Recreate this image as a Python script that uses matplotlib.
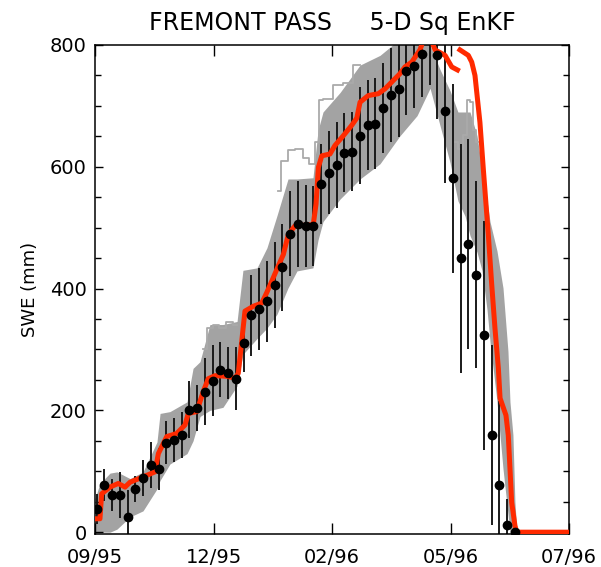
import numpy as np
import matplotlib
matplotlib.use('Agg')
import matplotlib.pyplot as plt
from matplotlib.ticker import MultipleLocator

# ejes: dias desde el inicio de la serie
x_ticks = [0, 76.5, 153, 229.5, 306]
x_labels = ['09/95', '12/95', '02/96', '05/96', '07/96']

# observaciones (cada 5 dias) con barra de error
obs_day = list(range(1, 276, 5))
obs_swe = [38, 77, 61, 61, 25, 71, 89, 110, 104, 147,
           152, 160, 201, 204, 231, 249, 267, 261, 252, 310,
           356, 366, 379, 406, 435, 490, 506, 503, 503, 572,
           590, 603, 623, 625, 651, 669, 671, 697, 718, 727,
           757, 766, 786, 810, 784, 691, 581, 450, 473, 423,
           323, 159, 77, 11, 0]
obs_err = [25, 26, 27, 38, 44, 22, 30, 38, 35, 35,
           36, 38, 47, 38, 55, 58, 45, 43, 52, 47,
           66, 67, 67, 70, 71, 70, 70, 67, 66, 66,
           68, 70, 65, 65, 80, 74, 74, 74, 77, 78,
           72, 69, 71, 76, 105, 117, 155, 188, 173, 154,
           188, 148, 139, 43, 20]

# linea roja (con hueco cerca del maximo)
red_day = [0, 3.2, 4.3, 9.7, 15.0, 19.4, 22.6, 31.2, 38.7, 40.9,
           46.3, 52.7, 58.1, 60.2, 65.7, 69.9, 73.1, 77.5, 85.0, 90.4,
           92.5, 94.7, 96.8, 102.2, 107.6, 110.8, 114.1, 118.3, 121.6, 124.8,
           129.1, 140.9, 142.7, 144.2, 146.4, 151.7, 154.9, 160.3, 165.7, 169.0,
           171.1, 176.4, 182.9, 187.2, 191.5, 196.9, 200.1, 204.5, 209.8, 212.0,
           217.4, 219.5, 226.0, 230.3, 234.0, 234.8,
           235.6, 241.0, 243.2, 245.3, 248.5, 250.7, 253.9, 256.1, 258.2, 260.4,
           261.5, 265.3, 266.8, 269.0, 271.1, 272.2, 306]
red_swe = [22, 22, 63, 74, 80, 74, 82, 91, 99, 129,
           157, 162, 176, 195, 198, 231, 252, 257, 256, 253,
           261, 313, 363, 371, 376, 393, 412, 437, 456, 489,
           503, 505, 539, 599, 618, 621, 635, 651, 668, 680,
           706, 717, 720, 728, 739, 753, 764, 772, 792, 808,
           806, 792, 783, 764, 759, np.nan,
           792, 783, 772, 750, 673, 596, 489, 407, 335, 269,
           220, 192, 159, 49, 11, 0, 0]

# envolvente del ensamble (gris)
band_day = [0, 3.2, 9.7, 14.2, 22.6, 31.0, 40.0, 42.0, 48.4, 59.4,
            63.3, 67.8, 74.2, 82.6, 91.7, 95.5, 104.6, 111.0, 117.5, 124.6,
            130.4, 140.7, 144.0, 147.2, 158.2, 171.1, 184.0, 196.9, 207.9, 216.3,
            222.7, 229.2, 234.3, 238.9, 242.1, 246.6, 249.8, 253.1, 255.0, 259.5,
            263.4, 266.6, 267.9, 269.8, 271.1, 272.4]
band_hi = [55, 80, 97, 99, 88, 99, 148, 195, 198, 214,
           269, 280, 341, 341, 346, 430, 434, 467, 520, 580,
           580, 582, 660, 690, 722, 767, 783, 810, 810, 800,
           760, 725, 690, 690, 690, 651, 597, 544, 510, 462,
           401, 297, 214, 160, 49, 0]
band_lo = [0, 0, 0, 5, 25, 35, 71, 85, 112, 129,
           150, 190, 200, 205, 240, 292, 318, 335, 358, 401,
           429, 434, 480, 510, 547, 580, 605, 651, 684, 729,
           668, 607, 544, 519, 487, 460, 430, 365, 313, 215,
           104, 30, 0, 0, 0, 0]

# miembros del ensamble que salen de la banda
out1_day = [118, 122.7, 125.9, 132.3, 136.0, 140.1, 143.5, 145.5, 149.5, 158.2, 162.5, 171.1]
out1_swe = [560, 610, 627, 630, 615, 605, 640, 709, 712, 734, 737, 767]
out2_day = [232.0, 236.5, 239.0, 241.0, 243.2, 245.0, 247.0]
out2_swe = [640, 630, 653, 709, 706, 660, 640]
out3_day = [70.0, 74.2, 78.0, 82.6, 86.0, 91.7]
out3_swe = [300, 335, 341, 336, 345, 341]


def main():
    plt.rcParams['font.family'] = ['DejaVu Sans']
    fig = plt.figure(figsize=(6.01, 5.67), dpi=100)
    ax = fig.add_axes([95 / 601, 1 - 534 / 567, 474 / 601, 489 / 567])

    swe = np.array(obs_swe, dtype=float)
    err = np.array(obs_err, dtype=float)

    ax.fill_between(band_day, band_lo, band_hi, color='#a3a3a3', lw=0, zorder=1)
    for xd, yd in [(out1_day, out1_swe), (out2_day, out2_swe), (out3_day, out3_swe)]:
        ax.plot(xd, yd, color='#aaaaaa', lw=1.3, drawstyle='steps-mid', zorder=1)
    ax.vlines(obs_day, swe - err, swe + err, color='#1a1a1a', lw=1.4, zorder=2)
    ax.plot(red_day, red_swe, color='#ff2a00', lw=3.6, zorder=3)
    ax.plot(obs_day, swe, 'o', color='black', ms=6, zorder=4)

    ax.set_xlim(0, 306)
    ax.set_ylim(-3, 800)
    ax.set_xticks(x_ticks)
    ax.set_xticklabels(x_labels)
    ax.yaxis.set_major_locator(MultipleLocator(200))
    ax.yaxis.set_minor_locator(MultipleLocator(50))
    ax.tick_params(axis='x', which='major', direction='in', length=8, width=1,
                   top=True, labelsize=14, pad=10)
    ax.tick_params(axis='y', which='major', direction='in', length=6, width=1,
                   right=True, labelsize=14, pad=6)
    ax.tick_params(axis='y', which='minor', direction='in', length=4.5, width=1,
                   right=True)
    for s in ax.spines.values():
        s.set_linewidth(1.1)

    ax.set_ylabel('SWE (mm)', fontsize=13, labelpad=8)
    ax.set_title('FREMONT PASS     5-D Sq EnKF', fontsize=17, pad=11)

    fig.savefig('out.png', dpi=100)


if __name__ == '__main__':
    main()
